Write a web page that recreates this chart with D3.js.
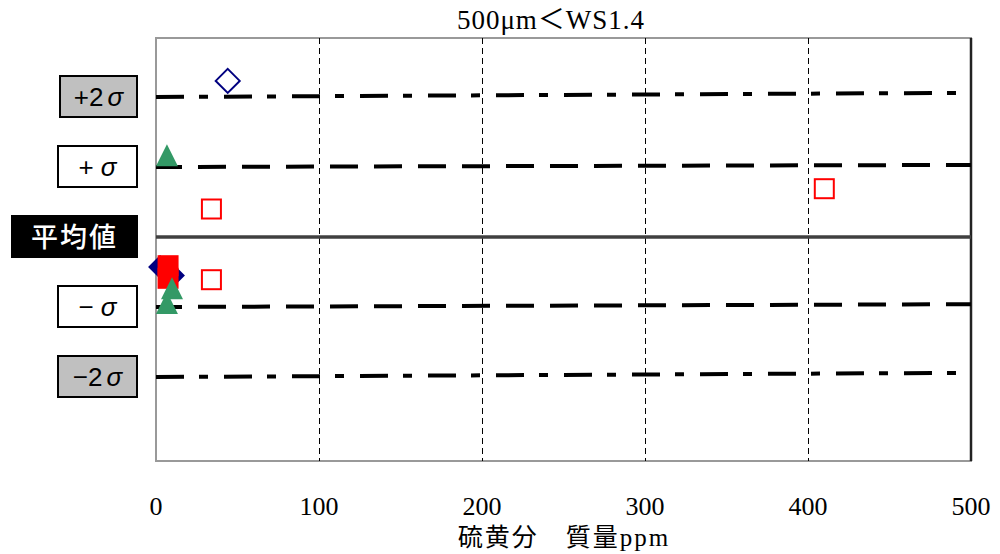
<!DOCTYPE html>
<html>
<head>
<meta charset="utf-8">
<script src="https://cdn.jsdelivr.net/npm/d3@7"></script>
<style>
body { margin:0; background:#fff; }
svg text { font-family: "Liberation Serif", "DejaVu Serif", "Noto Sans CJK JP", serif; }
.lbl { font-family: "Liberation Sans", Arial, "Noto Sans CJK JP", sans-serif; }
.cjk { font-family: "Noto Sans CJK JP", sans-serif; }
</style>
</head>
<body>
<div id="chart"></div>
<script>
// data
var title = "500μm＜WS1.4";
var xLabel = "硫黄分　質量ppm";
var xTicks = [0, 100, 200, 300, 400, 500];
var gridX = [100, 200, 300, 400];

// sigma band lines (value at x=0 and x=500, in sigma units)
var sigmaNames = ["+2σ", "+σ", "−σ", "−2σ"];
var sigmaStart = [2, 1, -1, -2];
var sigmaEnd = [2.06, 1.03, -0.96, -1.94];
var sigmaStyle = ["dashdot", "dash", "dash", "dashdot"];

// markers
var diamondOpenX = [44];
var diamondOpenY = [2.23];
var diamondX = [2.5, 10.4];
var diamondY = [-0.43, -0.55];
var squareX = [7.4, 7.4];
var squareY = [-0.41, -0.59];
var squareOpenX = [34, 34, 410];
var squareOpenY = [0.4, -0.61, 0.69];
var triangleX = [6.7, 9.8, 6.7];
var triangleY = [1.14, -0.76, -0.97];

function drawChart(){
	var width = 1000, height = 554;
	var pL = 156, pR = 971, pT = 38, pB = 461;

	var svg = d3.select("#chart").append("svg").attr("width", width).attr("height", height);

	var x = d3.scaleLinear().domain([0, 500]).range([pL, pR]);
	var y = d3.scaleLinear().domain([-3.2, 2.843]).range([pB, pT]);

	// frame
	svg.append("rect").attr("x", pL).attr("y", pT).attr("width", pR - pL).attr("height", pB - pT)
		.style("fill", "none").style("stroke", "#999").style("stroke-width", 2);
	svg.append("line").attr("x1", x(500)).attr("x2", x(500)).attr("y1", pT).attr("y2", pB)
		.style("stroke", "#222").style("stroke-width", 2.5);

	// vertical grid
	svg.selectAll(".vgrid").data(gridX).enter().append("line").attr("class", "vgrid")
		.attr("x1", function(d){ return Math.round(x(d)) + 0.5; }).attr("x2", function(d){ return Math.round(x(d)) + 0.5; })
		.attr("y1", pT).attr("y2", pB)
		.style("stroke", "#000").style("stroke-width", 1).style("stroke-dasharray", "6,4");

	// mean line
	svg.append("line").attr("x1", pL).attr("x2", pR).attr("y1", y(0)).attr("y2", y(0))
		.style("stroke", "#404040").style("stroke-width", 3.5);

	// sigma lines
	svg.selectAll(".sig").data(d3.range(sigmaNames.length)).enter().append("line").attr("class", "sig")
		.attr("x1", x(0)).attr("x2", x(500))
		.attr("y1", function(i){ return y(sigmaStart[i]); })
		.attr("y2", function(i){ return y(sigmaEnd[i]); })
		.style("stroke", "#000").style("stroke-width", 4)
		.style("stroke-dasharray", function(i){ return sigmaStyle[i] == "dash" ? "28,16" : "28,15,9,16"; })
		.style("stroke-dashoffset", function(i){ return sigmaStyle[i] == "dash" ? 2 : 0; });

	// markers
	function pts(xs, ys){ return xs.map(function(d, i){ return {x: d, y: ys[i]}; }); }

	svg.selectAll(".dia").data(pts(diamondX, diamondY)).enter().append("path").attr("class", "dia")
		.attr("d", "M0,-12L12,0L0,12L-12,0Z")
		.attr("transform", function(d){ return "translate(" + x(d.x) + "," + y(d.y) + ")"; })
		.style("fill", "#000080");
	svg.selectAll(".diao").data(pts(diamondOpenX, diamondOpenY)).enter().append("path").attr("class", "diao")
		.attr("d", "M0,-12L12,0L0,12L-12,0Z")
		.attr("transform", function(d){ return "translate(" + x(d.x) + "," + y(d.y) + ")"; })
		.style("fill", "none").style("stroke", "#000080").style("stroke-width", 2);
	svg.selectAll(".sq").data(pts(squareX, squareY)).enter().append("rect").attr("class", "sq")
		.attr("x", function(d){ return x(d.x) - 10.5; }).attr("y", function(d){ return y(d.y) - 10.5; })
		.attr("width", 21).attr("height", 21).style("fill", "#ff0000");
	svg.selectAll(".sqo").data(pts(squareOpenX, squareOpenY)).enter().append("rect").attr("class", "sqo")
		.attr("x", function(d){ return x(d.x) - 9.5; }).attr("y", function(d){ return y(d.y) - 9.5; })
		.attr("width", 19).attr("height", 19).style("fill", "none").style("stroke", "#ff0000").style("stroke-width", 2);
	svg.selectAll(".tri").data(pts(triangleX, triangleY)).enter().append("path").attr("class", "tri")
		.attr("d", "M0,-13L11,9L-11,9Z")
		.attr("transform", function(d){ return "translate(" + x(d.x) + "," + y(d.y) + ")"; })
		.style("fill", "#339966");

	// x tick labels
	svg.selectAll(".xt").data(xTicks).enter().append("text").attr("class", "xt")
		.attr("x", x).attr("y", 515).attr("text-anchor", "middle")
		.style("font-size", "26px").text(function(d){ return d; });

	svg.append("text").attr("x", 564).attr("y", 546).attr("text-anchor", "middle")
		.style("font-size", "25px").style("letter-spacing", "2px").text(xLabel);
	svg.append("text").attr("x", 551).attr("y", 29).attr("text-anchor", "middle")
		.style("font-size", "27px").style("letter-spacing", "1px").text(title);

	// left label boxes
	var boxes = [
		{pre: "+2", v: 2, x0: 60, fill: "#c0c0c0", color: "#000"},
		{pre: "+", v: 1, x0: 58, fill: "#fff", color: "#000"},
		{pre: "平均値", v: 0, x0: 12, fill: "#000", color: "#fff"},
		{pre: "−", v: -1, x0: 58, fill: "#fff", color: "#000"},
		{pre: "−2", v: -2, x0: 58, fill: "#c0c0c0", color: "#000"}
	];
	var bg = svg.selectAll(".box").data(boxes).enter().append("g").attr("class", "box");
	bg.append("rect").attr("x", function(d){ return d.x0; }).attr("y", function(d){ return y(d.v) - 21; })
		.attr("width", function(d){ return 137 - d.x0; }).attr("height", 41)
		.style("fill", function(d){ return d.fill; }).style("stroke", "#000").style("stroke-width", 2);
	var tx = bg.append("text")
		.attr("class", function(d){ return d.v == 0 ? "cjk" : "lbl"; })
		.attr("x", function(d){ return (d.x0 + 137) / 2; }).attr("y", function(d){ return y(d.v) + (d.v == 0 ? 10 : 9); })
		.attr("text-anchor", "middle")
		.style("font-size", function(d){ return d.v == 0 ? "27px" : "26px"; })
		.style("font-weight", function(d){ return d.v == 0 ? "500" : "normal"; })
		.style("letter-spacing", function(d){ return d.v == 0 ? "2px" : "0px"; })
		.style("fill", function(d){ return d.color; });
	tx.append("tspan").text(function(d){ return d.pre; });
	tx.filter(function(d){ return d.v != 0; }).append("tspan")
		.attr("dx", function(d){ return d.pre.length == 1 ? 7 : 4; })
		.style("font-style", "italic").text("σ");
}

drawChart();
</script>
</body>
</html>
